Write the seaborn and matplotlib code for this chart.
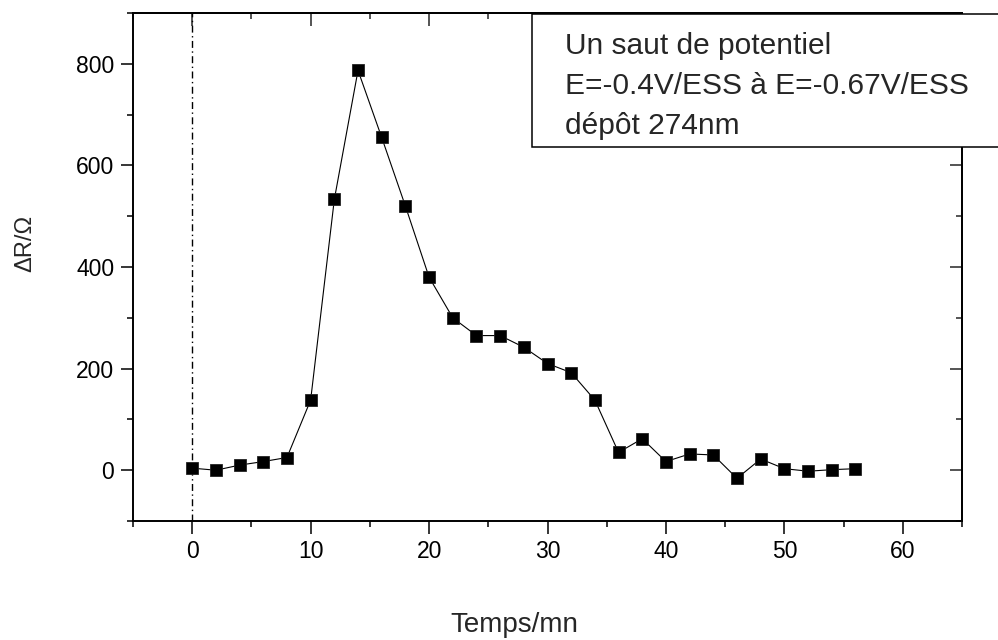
import matplotlib
matplotlib.use("Agg")
import matplotlib.pyplot as plt
import seaborn as sns
import pandas as pd
from matplotlib.patches import Rectangle
from matplotlib.ticker import MultipleLocator

temps = [0, 2, 4, 6, 8, 10, 12, 14, 16, 18, 20, 22, 24, 26, 28,
         30, 32, 34, 36, 38, 40, 42, 44, 46, 48, 50, 52, 54, 56]
delta_r = [4, 0, 10, 17, 25, 138, 533, 787, 655, 520, 380, 300, 265, 265, 242,
           210, 192, 138, 35, 62, 17, 32, 30, -16, 22, 3, -2, 1, 3]
x_label = "Temps/mn"
y_label = "ΔR/Ω"
note_lines = ["Un saut de potentiel", "E=-0.4V/ESS à E=-0.67V/ESS", "dépôt 274nm"]

sns.set_style("ticks")
plt.rcParams["font.family"] = ["Liberation Sans", "DejaVu Sans"]

df = pd.DataFrame({"t": temps, "dr": delta_r})

W, H = 998, 640
fig = plt.figure(figsize=(W / 100, H / 100), dpi=100)
ax = fig.add_axes([133 / W, 1 - 521 / H, (962 - 133) / W, (521 - 13) / H])

ax.axvline(0, color="black", lw=1.0, linestyle=(0, (5, 2.5, 1, 2.5)), zorder=1)
sns.lineplot(data=df, x="t", y="dr", ax=ax, color="black", lw=0.8,
             marker="s", markersize=8.5, markeredgecolor="#222222",
             markeredgewidth=0.6, zorder=3)

ax.set_xlim(-5, 65)
ax.set_ylim(-100, 900)
ax.xaxis.set_major_locator(MultipleLocator(10))
ax.xaxis.set_minor_locator(MultipleLocator(5))
ax.yaxis.set_major_locator(MultipleLocator(200))
ax.yaxis.set_minor_locator(MultipleLocator(100))
ax.set_xlabel("")
ax.set_ylabel("")

for s in ax.spines.values():
    s.set_visible(True)
    s.set_linewidth(1.4)
    s.set_color("black")

ax.tick_params(which="both", direction="out", top=False, right=False,
               width=1.1, colors="black", labelsize=16.5)
ax.tick_params(which="major", length=9, pad=5)
ax.tick_params(which="minor", length=4.5)
ax.tick_params(axis="y", which="major", pad=4.5)

# inward ticks on top and right
axt = ax.secondary_xaxis("top")
axt.xaxis.set_major_locator(MultipleLocator(10))
axt.xaxis.set_minor_locator(MultipleLocator(5))
axt.tick_params(which="both", direction="in", width=1.1, labeltop=False)
axt.tick_params(which="major", length=9)
axt.tick_params(which="minor", length=4.5)
axt.spines["top"].set_linewidth(1.4)
axr = ax.secondary_yaxis("right")
axr.yaxis.set_major_locator(MultipleLocator(200))
axr.yaxis.set_minor_locator(MultipleLocator(100))
axr.tick_params(which="both", direction="in", width=1.1, labelright=False)
axr.tick_params(which="major", length=9)
axr.tick_params(which="minor", length=4.5)
axr.spines["right"].set_linewidth(1.4)

fig.text(514 / W, 1 - 625 / H, x_label, ha="center", va="center", fontsize=20)
fig.text(25 / W, 1 - 243 / H, y_label, ha="center", va="center",
         rotation=90, fontsize=17)

# annotation box
box = Rectangle((532 / W, 1 - 147 / H), (W + 20 - 532) / W, (147 - 14) / H,
                transform=fig.transFigure, facecolor="white", edgecolor="black",
                lw=1.1, zorder=10, clip_on=False)
fig.patches.append(box)
for line, base in zip(note_lines, [54, 94, 134]):
    fig.text(565 / W, 1 - base / H, line, ha="left", va="baseline",
             fontsize=21.5, zorder=11)

fig.savefig("out.png", dpi=100)
